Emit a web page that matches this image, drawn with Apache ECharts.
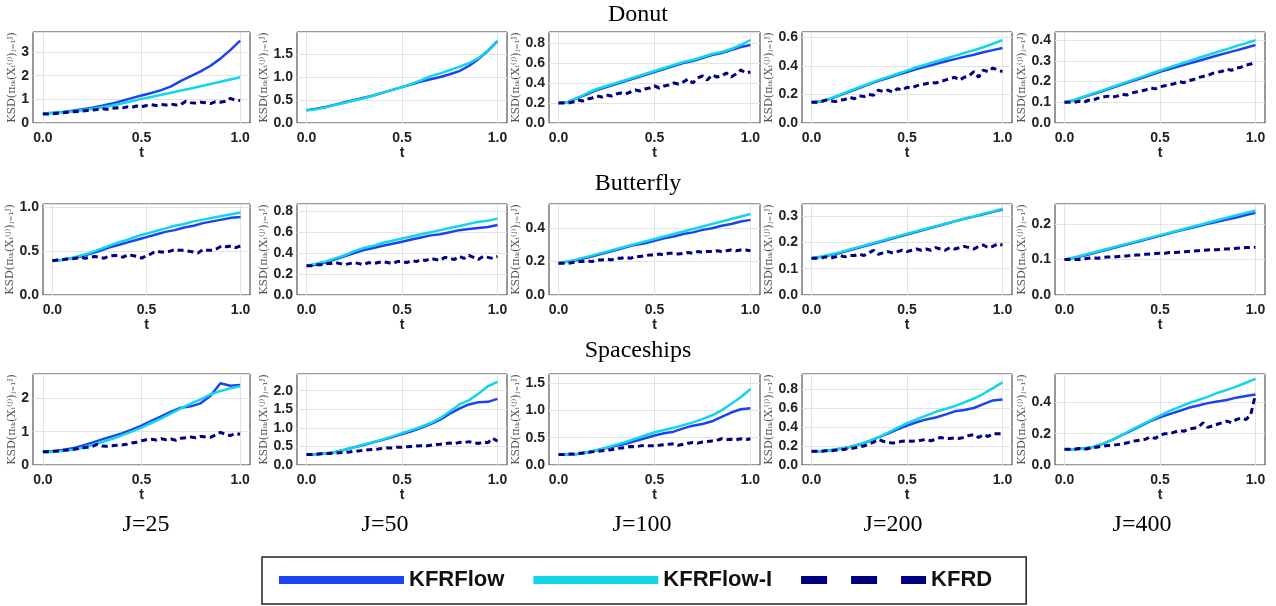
<!DOCTYPE html>
<html><head><meta charset="utf-8">
<script src="https://cdn.jsdelivr.net/npm/echarts@6/dist/echarts.min.js"></script>
<style>html,body{margin:0;padding:0;background:#fff}#c{width:1276px;height:606px}</style>
</head><body><div id="c"></div><script>
// ---------- data ----------
const tCoarse = [0,0.05,0.1,0.15,0.2,0.25,0.3,0.35,0.4,0.45,0.5,0.55,0.6,0.65,0.7,0.75,0.8,0.85,0.9,0.95,1.0];
const tFine = [0,0.025,0.05,0.075,0.1,0.125,0.15,0.175,0.2,0.225,0.25,0.275,0.3,0.325,0.35,0.375,0.4,0.425,0.45,0.475,0.5,0.525,0.55,0.575,0.6,0.625,0.65,0.675,0.7,0.725,0.75,0.775,0.8,0.825,0.85,0.875,0.9,0.925,0.95,0.975,1.0];
const datasets = ['Donut','Butterfly','Spaceships'];
const particleCounts = ['J=25','J=50','J=100','J=200','J=400'];
const seriesNames = ['KFRFlow','KFRFlow-I','KFRD'];
const xTicks = [0, 0.5, 1.0];

// Donut
const donutFlow25  = [0.40,0.43,0.47,0.52,0.58,0.65,0.73,0.82,0.93,1.05,1.16,1.27,1.39,1.55,1.78,1.98,2.18,2.42,2.72,3.08,3.48];
const donutFlowI25 = [0.40,0.42,0.45,0.49,0.54,0.60,0.67,0.74,0.82,0.92,1.02,1.10,1.19,1.28,1.37,1.46,1.55,1.65,1.74,1.84,1.93];
const donutKFRD25  = [0.38,0.38,0.39,0.41,0.43,0.45,0.47,0.49,0.51,0.53,0.55,0.57,0.60,0.58,0.62,0.64,0.62,0.68,0.66,0.72,0.68,0.74,0.77,0.74,0.78,0.76,0.80,0.76,0.78,0.92,0.86,0.84,0.88,0.86,0.82,0.90,0.88,0.92,1.04,0.96,0.95];
const donutFlow50  = [0.28,0.31,0.35,0.40,0.45,0.50,0.55,0.60,0.66,0.72,0.78,0.84,0.90,0.95,1.00,1.06,1.13,1.24,1.39,1.57,1.78];
const donutFlowI50 = [0.27,0.30,0.34,0.39,0.44,0.49,0.54,0.60,0.66,0.72,0.78,0.85,0.93,1.02,1.08,1.15,1.22,1.30,1.41,1.58,1.79];
const donutKFRD50  = [];
const donutFlow100  = [0.20,0.21,0.25,0.29,0.33,0.36,0.39,0.42,0.45,0.48,0.51,0.54,0.57,0.60,0.62,0.65,0.68,0.70,0.73,0.76,0.78];
const donutFlowI100 = [0.20,0.21,0.25,0.30,0.34,0.37,0.40,0.43,0.46,0.49,0.52,0.55,0.58,0.61,0.63,0.66,0.69,0.71,0.74,0.78,0.83];
const donutKFRD100  = [0.20,0.20,0.20,0.21,0.23,0.22,0.24,0.25,0.27,0.26,0.28,0.27,0.29,0.30,0.29,0.31,0.33,0.32,0.34,0.35,0.37,0.35,0.37,0.38,0.40,0.39,0.41,0.44,0.40,0.45,0.47,0.43,0.48,0.46,0.47,0.50,0.46,0.49,0.53,0.50,0.51];
const donutFlow200  = [0.145,0.15,0.17,0.195,0.22,0.245,0.27,0.295,0.315,0.337,0.357,0.377,0.395,0.413,0.43,0.447,0.463,0.478,0.495,0.51,0.525];
const donutFlowI200 = [0.145,0.152,0.172,0.198,0.225,0.25,0.275,0.30,0.322,0.345,0.367,0.39,0.41,0.43,0.45,0.47,0.49,0.51,0.53,0.555,0.58];
const donutKFRD200  = [0.145,0.145,0.15,0.16,0.155,0.15,0.16,0.165,0.18,0.17,0.19,0.185,0.20,0.195,0.23,0.22,0.23,0.215,0.24,0.23,0.25,0.245,0.26,0.27,0.275,0.285,0.28,0.29,0.30,0.31,0.32,0.30,0.32,0.33,0.36,0.32,0.37,0.36,0.385,0.37,0.36];
const donutFlow400  = [0.100,0.110,0.125,0.140,0.155,0.170,0.186,0.201,0.216,0.232,0.247,0.261,0.274,0.287,0.300,0.313,0.326,0.339,0.351,0.364,0.377];
const donutFlowI400 = [0.100,0.111,0.127,0.143,0.158,0.174,0.190,0.206,0.222,0.238,0.254,0.269,0.284,0.299,0.314,0.329,0.343,0.357,0.372,0.386,0.400];
const donutKFRD400  = [0.10,0.10,0.10,0.105,0.10,0.11,0.11,0.12,0.125,0.13,0.125,0.13,0.14,0.135,0.145,0.15,0.155,0.16,0.17,0.165,0.175,0.18,0.185,0.19,0.20,0.195,0.205,0.21,0.22,0.225,0.23,0.24,0.245,0.25,0.26,0.255,0.265,0.27,0.28,0.285,0.295];

// Butterfly
const bflyFlow25  = [0.39,0.40,0.42,0.44,0.47,0.50,0.54,0.57,0.60,0.63,0.66,0.69,0.72,0.74,0.77,0.79,0.82,0.84,0.86,0.88,0.89];
const bflyFlowI25 = [0.39,0.40,0.42,0.45,0.48,0.52,0.56,0.60,0.63,0.67,0.70,0.73,0.76,0.79,0.81,0.84,0.86,0.88,0.90,0.92,0.94];
const bflyKFRD25  = [0.39,0.40,0.40,0.41,0.41,0.42,0.43,0.42,0.43,0.44,0.43,0.42,0.44,0.45,0.45,0.43,0.46,0.45,0.44,0.42,0.45,0.47,0.50,0.49,0.49,0.50,0.52,0.51,0.51,0.50,0.49,0.48,0.52,0.51,0.51,0.53,0.56,0.55,0.56,0.54,0.56];
const bflyFlow50  = [0.28,0.29,0.31,0.34,0.37,0.40,0.43,0.45,0.47,0.49,0.51,0.53,0.55,0.57,0.58,0.60,0.62,0.63,0.64,0.65,0.67];
const bflyFlowI50 = [0.28,0.30,0.32,0.35,0.38,0.42,0.45,0.47,0.50,0.52,0.54,0.56,0.58,0.60,0.62,0.64,0.66,0.68,0.70,0.71,0.73];
const bflyKFRD50  = [0.28,0.28,0.29,0.29,0.30,0.30,0.31,0.30,0.29,0.30,0.31,0.30,0.29,0.31,0.30,0.31,0.32,0.31,0.30,0.32,0.32,0.31,0.33,0.32,0.34,0.33,0.35,0.34,0.33,0.36,0.35,0.34,0.37,0.35,0.38,0.36,0.34,0.37,0.36,0.35,0.37];
const bflyFlow100  = [0.19,0.20,0.21,0.225,0.24,0.255,0.27,0.285,0.30,0.31,0.325,0.34,0.35,0.365,0.375,0.39,0.40,0.415,0.425,0.44,0.45];
const bflyFlowI100 = [0.19,0.20,0.215,0.23,0.245,0.26,0.275,0.29,0.305,0.32,0.335,0.35,0.365,0.38,0.395,0.41,0.425,0.44,0.455,0.47,0.485];
const bflyKFRD100  = [0.19,0.19,0.19,0.195,0.20,0.20,0.205,0.20,0.21,0.21,0.215,0.21,0.22,0.22,0.225,0.22,0.23,0.23,0.235,0.24,0.24,0.245,0.24,0.25,0.25,0.245,0.25,0.255,0.25,0.26,0.255,0.26,0.26,0.265,0.26,0.265,0.27,0.265,0.27,0.27,0.265];
const bflyFlow200  = [0.14,0.145,0.152,0.16,0.17,0.18,0.19,0.20,0.21,0.22,0.23,0.24,0.25,0.26,0.27,0.28,0.29,0.298,0.307,0.316,0.325];
const bflyFlowI200 = [0.14,0.146,0.154,0.163,0.173,0.183,0.193,0.203,0.213,0.223,0.233,0.243,0.252,0.262,0.271,0.28,0.29,0.299,0.309,0.318,0.328];
const bflyKFRD200  = [0.14,0.14,0.14,0.145,0.14,0.145,0.15,0.145,0.15,0.15,0.155,0.15,0.16,0.17,0.155,0.16,0.165,0.16,0.165,0.17,0.165,0.17,0.175,0.17,0.175,0.17,0.18,0.175,0.17,0.18,0.175,0.18,0.185,0.18,0.175,0.185,0.19,0.18,0.185,0.195,0.19];
const bflyFlow400  = [0.10,0.105,0.111,0.118,0.125,0.132,0.139,0.146,0.153,0.16,0.167,0.174,0.181,0.188,0.194,0.201,0.207,0.213,0.219,0.226,0.232];
const bflyFlowI400 = [0.10,0.106,0.113,0.120,0.127,0.134,0.141,0.148,0.155,0.162,0.169,0.176,0.183,0.190,0.197,0.204,0.211,0.218,0.225,0.232,0.239];
const bflyKFRD400  = [0.10,0.10,0.10,0.10,0.102,0.104,0.105,0.104,0.106,0.107,0.108,0.108,0.11,0.11,0.112,0.113,0.113,0.115,0.116,0.117,0.118,0.118,0.12,0.12,0.121,0.122,0.123,0.124,0.125,0.126,0.127,0.128,0.128,0.13,0.13,0.131,0.132,0.133,0.134,0.134,0.135];

// Spaceships
const shipFlow25  = [0.40,0.41,0.45,0.50,0.58,0.67,0.77,0.86,0.95,1.06,1.18,1.32,1.46,1.60,1.72,1.76,1.85,2.08,2.45,2.38,2.40];
const shipFlowI25 = [0.38,0.39,0.42,0.46,0.52,0.60,0.69,0.78,0.89,1.00,1.12,1.26,1.40,1.55,1.70,1.84,1.97,2.12,2.22,2.30,2.36];
const shipKFRD25  = [0.40,0.40,0.41,0.42,0.44,0.45,0.47,0.49,0.52,0.53,0.55,0.62,0.57,0.56,0.58,0.59,0.60,0.62,0.66,0.68,0.73,0.76,0.77,0.75,0.79,0.76,0.78,0.74,0.80,0.82,0.84,0.82,0.86,0.84,0.83,0.90,0.98,0.92,0.88,0.95,0.92];
const shipFlow50  = [0.28,0.29,0.31,0.35,0.41,0.48,0.54,0.61,0.68,0.75,0.83,0.91,1.00,1.10,1.22,1.38,1.52,1.63,1.69,1.70,1.78];
const shipFlowI50 = [0.28,0.29,0.31,0.35,0.41,0.48,0.55,0.62,0.69,0.77,0.86,0.94,1.03,1.13,1.26,1.44,1.63,1.74,1.92,2.12,2.24];
const shipKFRD50  = [0.28,0.28,0.29,0.30,0.31,0.31,0.32,0.33,0.34,0.35,0.37,0.38,0.40,0.41,0.42,0.43,0.45,0.46,0.46,0.48,0.48,0.49,0.50,0.51,0.52,0.51,0.53,0.55,0.56,0.58,0.59,0.57,0.61,0.60,0.63,0.60,0.58,0.62,0.60,0.72,0.64];
const shipFlow100  = [0.19,0.19,0.20,0.23,0.27,0.31,0.35,0.39,0.44,0.49,0.54,0.58,0.61,0.67,0.72,0.75,0.80,0.88,0.96,1.02,1.04];
const shipFlowI100 = [0.19,0.19,0.20,0.23,0.27,0.32,0.37,0.42,0.48,0.54,0.60,0.64,0.68,0.73,0.78,0.84,0.91,1.00,1.12,1.24,1.39];
const shipKFRD100  = [0.19,0.19,0.20,0.20,0.21,0.22,0.23,0.24,0.25,0.26,0.27,0.28,0.30,0.31,0.32,0.34,0.33,0.35,0.36,0.35,0.35,0.36,0.37,0.38,0.39,0.36,0.38,0.40,0.41,0.40,0.42,0.43,0.44,0.45,0.48,0.46,0.47,0.46,0.48,0.46,0.48];
const shipFlow200  = [0.145,0.145,0.155,0.17,0.19,0.215,0.25,0.29,0.33,0.375,0.415,0.45,0.48,0.50,0.53,0.565,0.58,0.60,0.64,0.68,0.69];
const shipFlowI200 = [0.145,0.145,0.155,0.17,0.19,0.22,0.25,0.29,0.34,0.39,0.44,0.48,0.52,0.56,0.59,0.62,0.66,0.70,0.75,0.81,0.87];
const shipKFRD200  = [0.145,0.145,0.145,0.15,0.15,0.155,0.16,0.165,0.175,0.18,0.19,0.20,0.22,0.24,0.27,0.25,0.24,0.23,0.24,0.25,0.255,0.25,0.255,0.26,0.27,0.255,0.27,0.29,0.28,0.28,0.285,0.28,0.29,0.31,0.32,0.29,0.32,0.30,0.33,0.33,0.33];
const shipFlow400  = [0.10,0.10,0.105,0.115,0.135,0.16,0.19,0.22,0.25,0.28,0.305,0.325,0.345,0.365,0.38,0.395,0.405,0.415,0.43,0.44,0.45];
const shipFlowI400 = [0.10,0.10,0.105,0.115,0.135,0.16,0.19,0.225,0.255,0.285,0.315,0.345,0.37,0.395,0.415,0.435,0.46,0.48,0.50,0.525,0.55];
const shipKFRD400  = [0.10,0.10,0.10,0.105,0.10,0.105,0.11,0.115,0.12,0.125,0.125,0.13,0.135,0.14,0.15,0.155,0.16,0.165,0.18,0.17,0.19,0.20,0.20,0.21,0.22,0.215,0.23,0.235,0.24,0.27,0.24,0.25,0.26,0.27,0.28,0.27,0.29,0.30,0.29,0.32,0.45];

// axis ranges (y upper limit and tick step per panel)
const yMax  = [[3.845,1.98,0.91,0.637,0.44],[1.038,0.87,0.545,0.346,0.257],[2.73,2.45,1.665,0.958,0.581]];
const yStep = [[1,0.5,0.2,0.2,0.1],[0.5,0.2,0.2,0.1,0.1],[1,0.5,0.5,0.2,0.2]];

const panelData = [
  [[donutFlow25,donutFlowI25,donutKFRD25],[donutFlow50,donutFlowI50,donutKFRD50],[donutFlow100,donutFlowI100,donutKFRD100],[donutFlow200,donutFlowI200,donutKFRD200],[donutFlow400,donutFlowI400,donutKFRD400]],
  [[bflyFlow25,bflyFlowI25,bflyKFRD25],[bflyFlow50,bflyFlowI50,bflyKFRD50],[bflyFlow100,bflyFlowI100,bflyKFRD100],[bflyFlow200,bflyFlowI200,bflyKFRD200],[bflyFlow400,bflyFlowI400,bflyKFRD400]],
  [[shipFlow25,shipFlowI25,shipKFRD25],[shipFlow50,shipFlowI50,shipKFRD50],[shipFlow100,shipFlowI100,shipKFRD100],[shipFlow200,shipFlowI200,shipKFRD200],[shipFlow400,shipFlowI400,shipKFRD400]]
];

// ---------- layout / style ----------
const rowTop = [32, 204, 374];
const gridH = 91;
const colLeft = [[33,297,549,802,1055],[43,297,549,802,1055],[33,297,549,802,1055]];
const colRight = [250,507,760,1012,1265];
const colors = ['#1a44f2','#12d6e8','#000080'];
const yName = 'KSD(\u03c0\u209c\u2096(X\u209c\u207d\u02b2\u207e)\u2c7c\u208c\u2081\u1d36)';

function pairs(xs, ys){ const n = Math.min(xs.length, ys.length); const out=[]; for(let i=0;i<n;i++) out.push([xs[i], ys[i]]); return out; }

const grids=[], xAxes=[], yAxes=[], series=[];
let gi = 0;
for (let r=0;r<3;r++){
  for (let c=0;c<5;c++){
    const left = colLeft[r][c];
    grids.push({left:left, top:rowTop[r], width:colRight[c]-left, height:gridH, show:true, borderColor:'#333', borderWidth:1, backgroundColor:'transparent', containLabel:false});
    xAxes.push({type:'value', gridIndex:gi, min:-0.05, max:1.05,
      name:'t', nameLocation:'middle', nameGap:21,
      nameTextStyle:{fontFamily:'Liberation Sans', fontWeight:'bold', fontSize:14, color:'#222'},
      axisLine:{show:false}, axisTick:{show:false, customValues:xTicks},
      axisLabel:{customValues:xTicks, formatter:v=>v.toFixed(1), fontFamily:'Liberation Sans', fontWeight:'bold', fontSize:14, color:'#222', margin:8},
      splitLine:{show:true, lineStyle:{color:'#e3e3e3', width:1}}});
    const step = yStep[r][c];
    yAxes.push({type:'value', gridIndex:gi, min:0, max:yMax[r][c], interval:step,
      name:yName, nameLocation:'middle', nameGap: step>=1 ? 12 : 20,
      nameTextStyle:{fontFamily:'DejaVu Serif', fontSize:11, color:'#555'},
      axisLine:{show:false}, axisTick:{show:false},
      axisLabel:{showMaxLabel:false, formatter:v=> step>=1 ? String(Math.round(v)) : v.toFixed(1), fontFamily:'Liberation Sans', fontWeight:'bold', fontSize:14, color:'#222', margin:4},
      splitLine:{show:true, lineStyle:{color:'#e3e3e3', width:1}}});
    const d = panelData[r][c];
    series.push({name:seriesNames[0], type:'line', xAxisIndex:gi, yAxisIndex:gi, data:pairs(tCoarse,d[0]), symbol:'none', lineStyle:{color:colors[0], width:2.5}, itemStyle:{color:colors[0]}, z:2});
    series.push({name:seriesNames[1], type:'line', xAxisIndex:gi, yAxisIndex:gi, data:pairs(tCoarse,d[1]), symbol:'none', lineStyle:{color:colors[1], width:2.5}, itemStyle:{color:colors[1]}, z:3});
    series.push({name:seriesNames[2], type:'line', xAxisIndex:gi, yAxisIndex:gi, data:pairs(tFine,d[2]), symbol:'none', lineStyle:{color:colors[2], width:3, type:[6,4]}, itemStyle:{color:colors[2]}, z:4});
    gi++;
  }
}

const titleY = [15, 184, 351];
const jCenters = [146, 385, 642, 893, 1142];
const graphics = [];
datasets.forEach((name,i)=>graphics.push({type:'text', x:638, y:titleY[i], style:{text:name, fontFamily:'Liberation Serif', fontSize:24, fill:'#000', align:'center', verticalAlign:'middle'}}));
particleCounts.forEach((name,i)=>graphics.push({type:'text', x:jCenters[i], y:525, style:{text:name, fontFamily:'Liberation Serif', fontSize:24, fill:'#000', align:'center', verticalAlign:'middle'}}));

const chart = echarts.init(document.getElementById('c'), null, {renderer:'canvas'});
chart.setOption({
  animation:false,
  backgroundColor:'#fff',
  grid:grids, xAxis:xAxes, yAxis:yAxes, series:series,
  legend:{left:262, top:557, orient:'horizontal', padding:[12,34,13,13], borderColor:'#222', borderWidth:1.5,
    itemWidth:125, itemHeight:14, itemGap:25,
    textStyle:{fontFamily:'Liberation Sans', fontWeight:'bold', fontSize:22, color:'#111'},
    itemStyle:{opacity:0},
    lineStyle:{width:8},
    data:[{name:'KFRFlow'},{name:'KFRFlow-I'},{name:'KFRD', lineStyle:{type:[26,24], width:8}}]},
  graphic:graphics
});
</script></body></html>
